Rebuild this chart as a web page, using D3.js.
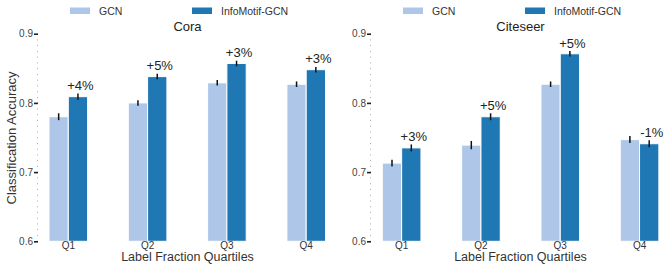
<!DOCTYPE html>
<html><head><meta charset="utf-8">
<script src="https://cdn.jsdelivr.net/npm/d3@7"></script>
<style>body{margin:0;background:#fff}svg{display:block;font-family:"Liberation Sans",Arial,sans-serif}</style>
</head><body><svg id="c" width="665" height="268"></svg>
<script>
const categories = ["Q1","Q2","Q3","Q4"];
const seriesNames = ["GCN","InfoMotif-GCN"];
const datasets = ["Cora","Citeseer"];
const coraGCN = [0.780,0.800,0.829,0.827];
const coraInfo = [0.809,0.838,0.857,0.848];
const coraGCNErr = [0.005,0.004,0.004,0.004];
const coraInfoErr = [0.0045,0.004,0.004,0.004];
const coraLabels = ["+4%","+5%","+3%","+3%"];
const citeGCN = [0.713,0.739,0.827,0.747];
const citeInfo = [0.735,0.780,0.871,0.741];
const citeGCNErr = [0.005,0.006,0.004,0.005];
const citeInfoErr = [0.005,0.005,0.004,0.005];
const citeLabels = ["+3%","+5%","+5%","-1%"];
const yTicks = [0.6,0.7,0.8,0.9];
const colors = ["#aec7e8","#1f77b4"];

const svg = d3.select("#c");
const panels = [
  {title:datasets[0], gcn:coraGCN, info:coraInfo, ge:coraGCNErr, ie:coraInfoErr, lab:coraLabels, axisX:38, bandStart:28.65, legendX:70},
  {title:datasets[1], gcn:citeGCN, info:citeInfo, ge:citeGCNErr, ie:citeInfoErr, lab:citeLabels, axisX:371, bandStart:362.0, legendX:403}
];
const y = d3.scaleLinear().domain([0.6,0.9]).range([241.3,33.7]);
const step = 79.3;
const bw = 19.3;

panels.forEach(p=>{
  const x = d3.scaleBand().domain(categories).range([p.bandStart, p.bandStart+step*categories.length]).padding(0);
  const g = svg.append("g");
  const cx = c => x(c)+x.bandwidth()/2;
  g.append("line").attr("x1",p.axisX-0.5).attr("x2",p.axisX-0.5).attr("y1",y(0.9)).attr("y2",y(0.6))
    .attr("stroke","#aaa").attr("stroke-width",1).attr("stroke-dasharray","1,4.75");
  const ax = d3.axisLeft(y).tickValues(yTicks).tickFormat(d3.format(".1f")).tickSize(4).tickPadding(1);
  const axg = g.append("g").attr("transform",`translate(${p.axisX},0)`).call(ax);
  axg.select(".domain").remove();
  axg.selectAll(".tick line").attr("stroke","#222").attr("stroke-width",1.6);
  axg.selectAll(".tick text").attr("font-size",10).attr("fill","#444").attr("font-family","Liberation Sans, Arial, sans-serif");
  const series = [{v:p.gcn,e:p.ge,off:-bw},{v:p.info,e:p.ie,off:0}];
  series.forEach((s,si)=>{
    g.selectAll(null).data(categories).enter().append("rect")
      .attr("x",(c)=>cx(c)+s.off).attr("width",bw)
      .attr("y",(c,i)=>y(s.v[i])).attr("height",(c,i)=>y(0.6)-y(s.v[i]))
      .attr("fill",colors[si]).attr("stroke","#fff").attr("stroke-width",1);
    g.selectAll(null).data(categories).enter().append("line")
      .attr("x1",c=>cx(c)+s.off+bw/2).attr("x2",c=>cx(c)+s.off+bw/2)
      .attr("y1",(c,i)=>y(s.v[i]-s.e[i])).attr("y2",(c,i)=>y(s.v[i]+s.e[i]))
      .attr("stroke","#111").attr("stroke-width",1.5);
  });
  g.selectAll(null).data(categories).enter().append("text")
    .attr("x",c=>cx(c)+bw/2+2.5).attr("y",(c,i)=>y(p.info[i]+p.ie[i])-3.5)
    .attr("text-anchor","middle").attr("font-size",13).attr("fill","#222")
    .text((c,i)=>p.lab[i]);
  g.selectAll(null).data(categories).enter().append("text")
    .attr("x",c=>cx(c)).attr("y",248.5).attr("text-anchor","middle")
    .attr("font-size",10).attr("fill","#333").text(c=>c);
  const mid = p.axisX + 149.5;
  g.append("text").attr("x",mid).attr("y",260.5).attr("text-anchor","middle")
    .attr("font-size",12.5).attr("fill","#333").text("Label Fraction Quartiles");
  g.append("text").attr("x",mid).attr("y",31).attr("text-anchor","middle")
    .attr("font-size",13).attr("fill","#222").text(p.title);
  seriesNames.forEach((n,i)=>{
    const lx = p.legendX + i*122;
    g.append("rect").attr("x",lx).attr("y",7.5).attr("width",20).attr("height",6.5).attr("fill",colors[i]);
    g.append("text").attr("x",lx+29).attr("y",14.5).attr("font-size",10.5).attr("fill","#333").text(n);
  });
});
svg.append("text").attr("transform","translate(16,138) rotate(-90)").attr("text-anchor","middle")
  .attr("font-size",13).attr("fill","#333").text("Classification Accuracy");
</script></body></html>
